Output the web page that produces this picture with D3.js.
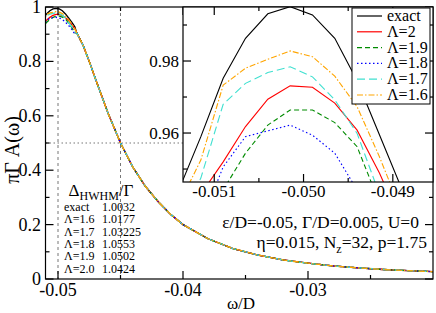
<!DOCTYPE html>
<html><head><meta charset="utf-8">
<script src="https://cdn.jsdelivr.net/npm/d3@7"></script>
<style>body{margin:0;background:#fff}svg{display:block}</style>
</head><body>
<svg id="c" width="436" height="313"></svg>
<script>
// ---- data ----
const fineOmega = [-0.0514, -0.05115, -0.0509, -0.05065, -0.0504, -0.05015, -0.0499, -0.04965, -0.0494, -0.04915, -0.0489, -0.04865];
const exactPeak = [0.944, 0.959, 0.9752, 0.9863, 0.9931, 0.9951, 0.9928, 0.9863, 0.9745, 0.9595, 0.9445, 0.927];
const lambda20Peak = [0.932, 0.943, 0.952, 0.9618, 0.9694, 0.9731, 0.9727, 0.9683, 0.9608, 0.9489, 0.935, 0.92];
const lambda19Peak = [0.915, 0.930, 0.9442, 0.9544, 0.9622, 0.9664, 0.9664, 0.9629, 0.9562, 0.9406, 0.925, 0.905];
const lambda18Peak = [0.92, 0.935, 0.9506, 0.959, 0.9606, 0.9622, 0.9594, 0.9544, 0.9442, 0.932, 0.918, 0.90];
const lambda17Peak = [0.935, 0.9475, 0.968, 0.9738, 0.9768, 0.9784, 0.9756, 0.9692, 0.9599, 0.943, 0.928, 0.91];
const lambda16Peak = [0.94, 0.9525, 0.9733, 0.978, 0.9805, 0.9828, 0.9812, 0.9758, 0.9673, 0.9534, 0.938, 0.92];
const tailOmega = [-0.0485, -0.048, -0.0475, -0.047, -0.046, -0.045, -0.044, -0.043, -0.042, -0.041, -0.04, -0.038, -0.036, -0.034, -0.032, -0.03, -0.028, -0.026, -0.024, -0.022, -0.02];
const tailValue = [0.905, 0.86, 0.80, 0.735, 0.61, 0.50, 0.41, 0.34, 0.285, 0.238, 0.20, 0.148, 0.112, 0.088, 0.07, 0.058, 0.048, 0.041, 0.035, 0.031, 0.027];
const seriesNames = ["exact", "Λ=2", "Λ=1.9", "Λ=1.8", "Λ=1.7", "Λ=1.6"];
const seriesPeaks = [exactPeak, lambda20Peak, lambda19Peak, lambda18Peak, lambda17Peak, lambda16Peak];
const hwhmLabels = ["exact", "Λ=1.6", "Λ=1.7", "Λ=1.8", "Λ=1.9", "Λ=2.0"];
const hwhmValues = ["1.0032", "1.0177", "1.03225", "1.0553", "1.0502", "1.0424"];
const mainXTicks = [-0.05, -0.04, -0.03];
const mainYTicks = [0, 0.2, 0.4, 0.6, 0.8, 1];
const insetXTicks = [-0.051, -0.05, -0.049];
const insetYTicks = [0.96, 0.98];
const markerOmega = [-0.05, -0.045];
const markerValue = [0.5];

// ---- styles ----
const FONT = "Liberation Serif";
const colors = ["#000000", "#ff0000", "#008b00", "#0000ff", "#40e0d0", "#ffa500"];
const dashes = [null, null, "5,3", "1.5,2.5", "8,4", "6,2,1.5,2"];

const svg = d3.select("#c");
const M = {l: 45.5, r: 433, t: 7, b: 279};
const x = d3.scaleLinear().domain([-0.051, -0.02]).range([M.l, M.r]);
const y = d3.scaleLinear().domain([0, 1]).range([M.b, M.t]);

svg.append("clipPath").attr("id", "mclip").append("rect")
  .attr("x", M.l).attr("y", M.t).attr("width", M.r - M.l).attr("height", M.b - M.t);

// guide lines
const g0 = svg.append("g").attr("clip-path", "url(#mclip)");
markerOmega.forEach(w => g0.append("line").attr("x1", x(w)).attr("x2", x(w)).attr("y1", M.t).attr("y2", M.b)
  .attr("stroke", "#777").attr("stroke-width", 1).attr("stroke-dasharray", "3,3"));
markerValue.forEach(v => g0.append("line").attr("x1", M.l).attr("x2", M.r).attr("y1", y(v)).attr("y2", y(v))
  .attr("stroke", "#777").attr("stroke-width", 1).attr("stroke-dasharray", "1.5,2.5"));

// main curves
const lineMain = d3.line().x(d => x(d[0])).y(d => y(d[1]));
seriesPeaks.forEach((pk, i) => {
  const pts = fineOmega.map((w, j) => [w, pk[j]]).concat(tailOmega.map((w, j) => [w, tailValue[j]]));
  g0.append("path").attr("d", lineMain(pts)).attr("fill", "none").attr("stroke", colors[i])
    .attr("stroke-width", 1.3).attr("stroke-dasharray", dashes[i]);
});

// frame & ticks
function ticks(g, sx, sy, xt, xm, yt, ym, box, maj, min) {
  xt.forEach(v => { g.append("line").attr("x1", sx(v)).attr("x2", sx(v)).attr("y1", box.b).attr("y2", box.b - maj);
                    g.append("line").attr("x1", sx(v)).attr("x2", sx(v)).attr("y1", box.t).attr("y2", box.t + maj); });
  xm.forEach(v => { g.append("line").attr("x1", sx(v)).attr("x2", sx(v)).attr("y1", box.b).attr("y2", box.b - min);
                    g.append("line").attr("x1", sx(v)).attr("x2", sx(v)).attr("y1", box.t).attr("y2", box.t + min); });
  yt.forEach(v => { g.append("line").attr("y1", sy(v)).attr("y2", sy(v)).attr("x1", box.l).attr("x2", box.l + maj);
                    g.append("line").attr("y1", sy(v)).attr("y2", sy(v)).attr("x1", box.r).attr("x2", box.r - maj); });
  ym.forEach(v => { g.append("line").attr("y1", sy(v)).attr("y2", sy(v)).attr("x1", box.l).attr("x2", box.l + min);
                    g.append("line").attr("y1", sy(v)).attr("y2", sy(v)).attr("x1", box.r).attr("x2", box.r - min); });
  g.append("rect").attr("x", box.l).attr("y", box.t).attr("width", box.r - box.l).attr("height", box.b - box.t).attr("fill", "none");
}
const gm = svg.append("g").attr("stroke", "#000").attr("stroke-width", 1.2);
ticks(gm, x, y, mainXTicks, [-0.045, -0.035, -0.025], mainYTicks, [0.1, 0.3, 0.5, 0.7, 0.9], M, 8, 4);

const fmtY = v => v === 0 ? "0" : v === 1 ? "1" : d3.format(".1f")(v);
svg.append("g").selectAll("text").data(mainYTicks).join("text")
  .attr("x", 41).attr("y", d => y(d) + 6).attr("text-anchor", "end").attr("font-size", 18).text(fmtY);
svg.append("g").selectAll("text").data(mainXTicks).join("text")
  .attr("x", d => x(d)).attr("y", 296).attr("text-anchor", "middle").attr("font-size", 18).text(d => d3.format(".2f")(d).replace("−", "-"));
svg.append("text").attr("x", 241).attr("y", 309).attr("text-anchor", "middle").attr("font-size", 17).text("ω/D");
svg.append("text").attr("transform", "translate(19,150) rotate(-90)").attr("text-anchor", "middle").attr("font-size", 20).text("πΓ A(ω)");

// HWHM table
const hw = svg.append("text").attr("x", 101).attr("y", 196).attr("text-anchor", "middle").attr("font-size", 17);
hw.append("tspan").text("Δ");
hw.append("tspan").attr("dy", 4).attr("font-size", 12).text("HWHM");
hw.append("tspan").attr("dy", -4).text("/Γ");
hwhmLabels.forEach((l, i) => {
  svg.append("text").attr("x", 64).attr("y", 211 + i * 12.3).attr("font-size", 12).text(l);
  svg.append("text").attr("x", 102).attr("y", 211 + i * 12.3).attr("font-size", 12).text(hwhmValues[i]);
});
svg.append("text").attr("x", 419).attr("y", 228).attr("text-anchor", "end").attr("font-size", 17.5).text("ε/D=-0.05, Γ/D=0.005, U=0");
const et = svg.append("text").attr("x", 427).attr("y", 248).attr("text-anchor", "end").attr("font-size", 17.5);
et.append("tspan").text("η=0.015, N");
et.append("tspan").attr("dy", 5).attr("font-size", 12).text("z");
et.append("tspan").attr("dy", -5).text("=32, p=1.75");

// ---- inset ----
const I = {l: 183, r: 433, t: 7, b: 182};
const xi = d3.scaleLinear().domain([-0.05135, -0.04855]).range([I.l, I.r]);
const yi = d3.scaleLinear().domain([0.9464, 0.995]).range([I.b, I.t]);
svg.append("rect").attr("x", I.l).attr("y", I.t).attr("width", I.r - I.l).attr("height", I.b - I.t).attr("fill", "#fff");
svg.append("clipPath").attr("id", "iclip").append("rect")
  .attr("x", I.l).attr("y", I.t).attr("width", I.r - I.l).attr("height", I.b - I.t);
const gi = svg.append("g").attr("clip-path", "url(#iclip)");
const lineIn = d3.line().x(d => xi(d[0])).y(d => yi(d[1]));
seriesPeaks.forEach((pk, i) => {
  gi.append("path").attr("d", lineIn(fineOmega.map((w, j) => [w, pk[j]]))).attr("fill", "none")
    .attr("stroke", colors[i]).attr("stroke-width", 1.1).attr("stroke-dasharray", dashes[i]);
});
const gin = svg.append("g").attr("stroke", "#000").attr("stroke-width", 1.2);
ticks(gin, xi, yi, insetXTicks, [-0.0505, -0.0495], insetYTicks, [0.95, 0.97, 0.99], I, 8, 4);
svg.append("g").selectAll("text").data(insetYTicks).join("text")
  .attr("x", 179).attr("y", d => yi(d) + 6).attr("text-anchor", "end").attr("font-size", 17).text(d => d3.format(".2f")(d));
svg.append("g").selectAll("text").data(insetXTicks).join("text")
  .attr("x", d => xi(d)).attr("y", 197).attr("text-anchor", "middle").attr("font-size", 17).text(d => d3.format(".3f")(d).replace("−", "-"));

// legend
const L = {l: 352, t: 8, w: 78, h: 96};
svg.append("rect").attr("x", L.l).attr("y", L.t).attr("width", L.w).attr("height", L.h).attr("fill", "#fff").attr("stroke", "#000").attr("stroke-width", 1);
seriesNames.forEach((n, i) => {
  const cy = 16 + i * 15.8;
  svg.append("line").attr("x1", 357).attr("x2", 382).attr("y1", cy).attr("y2", cy).attr("stroke", colors[i])
    .attr("stroke-width", 1.2).attr("stroke-dasharray", dashes[i]);
  svg.append("text").attr("x", 387).attr("y", cy + 5).attr("font-size", 16).text(n);
});

svg.selectAll("text").attr("font-family", FONT).style("font-family", FONT).attr("fill", "#000");
</script>
</body></html>
